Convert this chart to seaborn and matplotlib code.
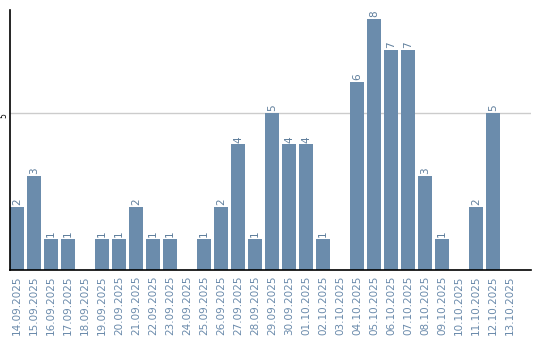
import matplotlib
matplotlib.use("Agg")
import matplotlib.pyplot as plt
import seaborn as sns
import pandas as pd

dates = ["14.09.2025", "15.09.2025", "16.09.2025", "17.09.2025", "18.09.2025",
         "19.09.2025", "20.09.2025", "21.09.2025", "22.09.2025", "23.09.2025",
         "24.09.2025", "25.09.2025", "26.09.2025", "27.09.2025", "28.09.2025",
         "29.09.2025", "30.09.2025", "01.10.2025", "02.10.2025", "03.10.2025",
         "04.10.2025", "05.10.2025", "06.10.2025", "07.10.2025", "08.10.2025",
         "09.10.2025", "10.10.2025", "11.10.2025", "12.10.2025", "13.10.2025"]
counts = [2, 3, 1, 1, 0, 1, 1, 2, 1, 1, 0, 1, 2, 4, 1, 5, 4, 4, 1, 0,
          6, 8, 7, 7, 3, 1, 0, 2, 5, 0]
y_ticks = [5]

df = pd.DataFrame({"date": dates, "count": counts})

sns.set_style("white")
plt.rcParams['font.family'] = ['DejaVu Sans']

fig = plt.figure(figsize=(5.4, 3.4), dpi=100)
ax = fig.add_axes([10/540, 1-270/340, (531-10)/540, (270-10)/340])

bar_color = "#6b8cac"
sns.barplot(data=df, x="date", y="count", color=bar_color, width=0.82,
            saturation=1, ax=ax, zorder=3, edgecolor="none", linewidth=0)

ax.set_xlim(-0.41, 30.24)
ax.set_ylim(0, 8.28)
ax.set_yticks(y_ticks)
ax.set_yticklabels([str(t) for t in y_ticks], rotation=90, fontsize=5.5,
                   va="top", color="#000000")
ax.tick_params(axis="y", length=0, pad=1.5)
ax.tick_params(axis="x", length=0, pad=4)
ax.yaxis.grid(True, color="#cccccc", linewidth=1, zorder=0)
ax.set_axisbelow(True)
plt.setp(ax.get_xticklabels(), rotation=90, fontsize=7.5, color="#6a8aab")
ax.set_xlabel("")
ax.set_ylabel("")

for s in ["top", "right"]:
    ax.spines[s].set_visible(False)
for s in ["left", "bottom"]:
    ax.spines[s].set_color("#000000")
    ax.spines[s].set_linewidth(1.2)
    ax.spines[s].set_zorder(5)

for i, v in enumerate(counts):
    if v > 0:
        ax.text(i, v + 0.06, str(v), rotation=90, ha="center", va="bottom",
                fontsize=7.5, color="#5f7e9c")

fig.savefig("out.png", dpi=100)
